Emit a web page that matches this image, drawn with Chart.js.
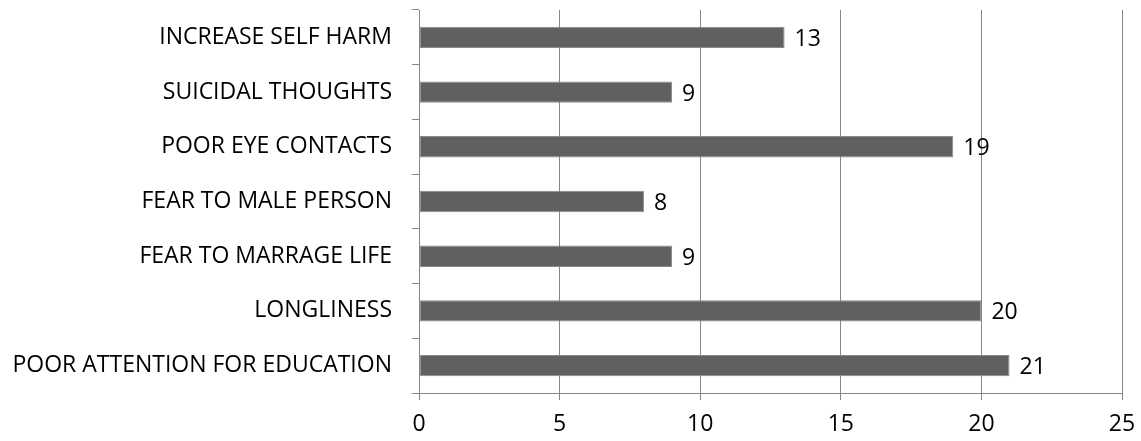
<!DOCTYPE html>
<html>
<head>
<meta charset="utf-8">
<script src="https://cdn.jsdelivr.net/npm/chart.js@4"></script>
<style>
  html, body { margin: 0; padding: 0; background: #fff; }
  #wrap { width: 1141px; height: 441px; }
</style>
</head>
<body>
<div id="wrap"><canvas id="barChart"></canvas></div>
<script>
const categories = [
    'INCREASE SELF HARM',
    'SUICIDAL THOUGHTS',
    'POOR EYE CONTACTS',
    'FEAR TO MALE PERSON',
    'FEAR TO MARRAGE LIFE',
    'LONGLINESS',
    'POOR ATTENTION FOR EDUCATION'
];
const counts = [13, 9, 19, 8, 9, 20, 21];
const xTicks = [0, 5, 10, 15, 20, 25];

const FONT = '"Open Sans", "Noto Sans", sans-serif';
const GRID = '#868686';

// value labels to the right of each bar
const barLabels = {
    id: 'barLabels',
    afterDatasetsDraw(chart) {
        const ctx = chart.ctx;
        const meta = chart.getDatasetMeta(0);
        ctx.save();
        ctx.font = '23px ' + FONT;
        ctx.fillStyle = '#000';
        ctx.textAlign = 'left';
        ctx.textBaseline = 'middle';
        meta.data.forEach((bar, i) => {
            ctx.fillText(String(counts[i]), bar.x + 10, bar.y + 2);
        });
        ctx.restore();
    }
};

new Chart(document.getElementById('barChart'), {
    type: 'bar',
    data: {
        labels: categories,
        datasets: [{
            data: counts,
            backgroundColor: '#606060',
            borderColor: '#8a8a8a',
            borderWidth: 1,
            borderSkipped: false,
            categoryPercentage: 1,
            barPercentage: 0.39
        }]
    },
    options: {
        indexAxis: 'y',
        responsive: true,
        maintainAspectRatio: false,
        animation: false,
        layout: { padding: { top: 10, right: 19, left: 0, bottom: 0 } },
        plugins: {
            legend: { display: false },
            tooltip: { enabled: false }
        },
        scales: {
            x: {
                min: 0,
                max: 25,
                afterBuildTicks(scale) {
                    scale.ticks = xTicks.map(v => ({ value: v }));
                },
                afterFit(scale) {
                    scale.height = 48;
                    scale.paddingLeft = 0;
                    scale.paddingRight = 0;
                },
                grid: { color: GRID, lineWidth: 1, tickLength: 7 },
                border: { color: GRID, width: 1 },
                ticks: {
                    color: '#000',
                    padding: 11,
                    font: { family: FONT, size: 23 }
                }
            },
            y: {
                offset: true,
                afterFit(scale) {
                    scale.width = 419;
                    scale.paddingTop = 0;
                    scale.paddingBottom = 0;
                },
                grid: {
                    offset: true,
                    drawOnChartArea: false,
                    color: GRID,
                    tickLength: 7
                },
                border: { color: GRID, width: 1 },
                ticks: {
                    color: '#000',
                    padding: 20,
                    font: { family: FONT, size: 23 }
                }
            }
        }
    },
    plugins: [barLabels]
});
</script>
</body>
</html>
